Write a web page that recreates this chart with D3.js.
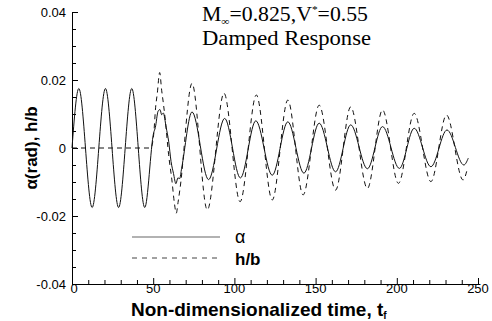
<!DOCTYPE html>
<html>
<head>
<meta charset="utf-8">
<script src="https://cdn.jsdelivr.net/npm/d3@7"></script>
<style>
  body { margin: 0; background: #fff; }
  svg { display: block; }
</style>
</head>
<body>
<div id="chart"></div>
<script>
// alpha (rad): peaks, troughs and a few wiggle points
var alphaT = [0, 4.2, 12.4, 20.6, 28.7, 36.8, 44.8, 50.3, 51.3, 53.0, 54.2, 55.2, 56.2, 58.0, 59.5, 61.0, 62.5, 64.0, 65.2, 66.3, 67.5,
              73.9, 84.1, 94.0, 103.7, 113.2, 123.3, 132.9, 142.8, 152.2, 162.3, 171.6, 181.9, 191.2, 201.6, 210.7, 221.0, 230.9, 241.3, 244.0];
var alphaV = [0, 0.0175, -0.0175, 0.0175, -0.0175, 0.0175, -0.0175, 0.0045, 0.0060, 0.0108, 0.0113, 0.0098, 0.0103, 0.0060, 0.0020, -0.0040, -0.0075, -0.0105, -0.0088, -0.0090, -0.0060,
              0.0106, -0.0093, 0.0087, -0.0088, 0.0080, -0.0080, 0.0077, -0.0074, 0.0073, -0.0070, 0.0068, -0.0061, 0.0063, -0.0060, 0.0058, -0.0055, 0.0053, -0.0050, -0.0030];

// h/b
var hbT = [0, 48.5, 50.3, 51.5, 52.5, 54.0, 55.2, 56.3, 57.5, 59.5, 61.5, 63.0, 64.2, 65.3, 66.5,
           73.9, 83.3, 93.6, 103.5, 113.5, 123.3, 132.9, 142.3, 152.2, 162.3, 171.6, 181.9, 191.2, 201.0, 210.7, 221.0, 230.6, 240.8, 243.5];
var hbV = [0, 0, 0.0040, 0.0120, 0.0160, 0.0222, 0.0170, 0.0130, 0.0080, -0.0020, -0.0094, -0.0160, -0.0192, -0.0160, -0.0120,
           0.0190, -0.0182, 0.0161, -0.0158, 0.0156, -0.0153, 0.0141, -0.0138, 0.0126, -0.0124, 0.0121, -0.0119, 0.0112, -0.0104, 0.0102, -0.0099, 0.0097, -0.0094, -0.0060];

var xTicks = [0, 50, 100, 150, 200, 250];
var yTicks = [-0.04, -0.02, 0, 0.02, 0.04];
var legendLabels = ["\u03b1", "h/b"];

var W = 492, H = 321;
var svg = d3.select("#chart").append("svg")
    .attr("width", W)
    .attr("height", H);

var x = d3.scaleLinear().domain([0, 250]).range([72, 478]);
var y = d3.scaleLinear().domain([-0.04, 0.04]).range([284, 12]);

// minor ticks (inward)
var xMinor = d3.range(0, 251, 10).filter(v => xTicks.indexOf(v) < 0);
var yMinor = d3.range(-0.04, 0.0401, 0.005).map(v => +v.toFixed(3)).filter(v => yTicks.indexOf(v) < 0);

svg.append("g")
    .attr("transform", "translate(0,284)")
    .call(d3.axisTop(x).tickValues(xMinor).tickSize(4).tickFormat(""))
    .call(g => g.select(".domain").remove());
svg.append("g")
    .attr("transform", "translate(72,0)")
    .call(d3.axisRight(y).tickValues(yMinor).tickSize(4).tickFormat(""))
    .call(g => g.select(".domain").remove());

// major ticks + axis lines
svg.append("g")
    .attr("transform", "translate(0,284)")
    .call(d3.axisTop(x).tickValues(xTicks).tickSize(6).tickSizeOuter(0).tickFormat(""));
svg.append("g")
    .attr("transform", "translate(72,0)")
    .call(d3.axisRight(y).tickValues(yTicks).tickSize(6).tickSizeOuter(0).tickFormat(""));

svg.selectAll(".domain, .tick line").attr("stroke", "#000").attr("stroke-width", 1);

// tick labels
svg.append("g").selectAll("text")
    .data(xTicks).enter().append("text")
    .attr("x", d => x(d) + (d === 0 ? 2 : 0))
    .attr("y", 293)
    .attr("text-anchor", "middle")
    .attr("font-family", "Liberation Sans, Arial, sans-serif")
    .attr("font-size", 13)
    .text(d => d);
svg.append("g").selectAll("text")
    .data(yTicks).enter().append("text")
    .attr("x", 66)
    .attr("y", d => y(d))
    .attr("dy", "0.35em")
    .attr("text-anchor", "end")
    .attr("font-family", "Liberation Sans, Arial, sans-serif")
    .attr("font-size", 13)
    .text(d => d === 0 ? "0" : d.toFixed(2));

// curves
var line = d3.line()
    .x(d => x(d[0]))
    .y(d => y(d[1]))
    .curve(d3.curveMonotoneX);

svg.append("path")
    .datum(hbT.map((t, i) => [t, hbV[i]]))
    .attr("d", line)
    .attr("fill", "none")
    .attr("stroke", "#111")
    .attr("stroke-width", 1)
    .attr("stroke-dasharray", "5,4");

svg.append("path")
    .datum(alphaT.map((t, i) => [t, alphaV[i]]))
    .attr("d", line)
    .attr("fill", "none")
    .attr("stroke", "#111")
    .attr("stroke-width", 1);

// legend
var lg = svg.append("g");
lg.append("line").attr("x1", 132).attr("x2", 220).attr("y1", 237).attr("y2", 237)
    .attr("stroke", "#666").attr("stroke-width", 1.2);
lg.append("line").attr("x1", 132).attr("x2", 220).attr("y1", 258).attr("y2", 258)
    .attr("stroke", "#444").attr("stroke-width", 1).attr("stroke-dasharray", "5,5");
lg.append("text").attr("x", 235).attr("y", 243)
    .attr("font-family", "Liberation Sans, Arial, sans-serif").attr("font-size", 18)
    .text(legendLabels[0]);
lg.append("text").attr("x", 235).attr("y", 265)
    .attr("font-family", "Liberation Sans, Arial, sans-serif").attr("font-size", 17)
    .attr("font-weight", "bold")
    .text(legendLabels[1]);

// title
var title = svg.append("g")
    .attr("font-family", "Liberation Serif, Times New Roman, serif")
    .attr("font-size", 21);
var t1 = title.append("text").attr("x", 202).attr("y", 21)
    .attr("textLength", 166).attr("lengthAdjust", "spacingAndGlyphs");
t1.append("tspan").text("M");
t1.append("tspan").attr("font-size", 11).attr("dy", 4).text("\u221e");
t1.append("tspan").attr("dy", -4).text("=0.825,V");
t1.append("tspan").attr("font-size", 11).attr("dy", -8).text("*");
t1.append("tspan").attr("dy", 8).text("=0.55");
title.append("text").attr("x", 202).attr("y", 45)
    .attr("textLength", 169).attr("lengthAdjust", "spacingAndGlyphs")
    .text("Damped Response");

// axis titles
var xl = svg.append("text")
    .attr("x", 131).attr("y", 316)
    .attr("font-family", "Liberation Sans, Arial, sans-serif")
    .attr("font-size", 19).attr("font-weight", "bold");
xl.append("tspan").text("Non-dimensionalized time, t");
xl.append("tspan").attr("font-size", 10).attr("dy", 3).text("f");

svg.append("text")
    .attr("transform", "translate(37,148) rotate(-90)")
    .attr("text-anchor", "middle")
    .attr("font-family", "Liberation Sans, Arial, sans-serif")
    .attr("font-size", 17).attr("font-weight", "bold")
    .text("\u03b1(rad), h/b");
</script>
</body>
</html>
